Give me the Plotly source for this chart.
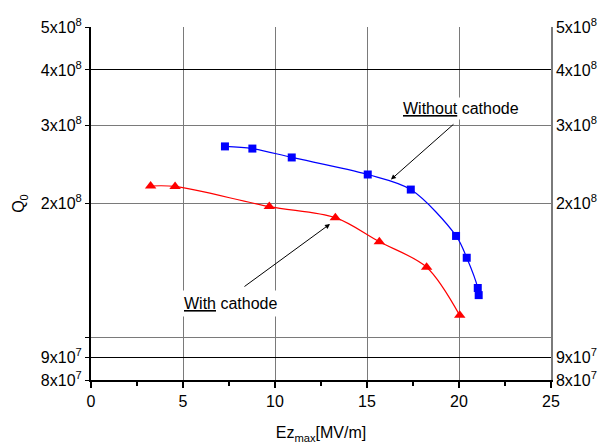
import math
import plotly.graph_objects as go

# Data
without_x = [7.28, 8.77, 10.91, 15.04, 17.38, 19.84, 20.42, 21.02, 21.07]
without_q = [2.69e8, 2.66e8, 2.54e8, 2.325e8, 2.15e8, 1.69e8, 1.509e8, 1.29e8, 1.243e8]

with_x = [3.24, 4.57, 9.69, 13.28, 15.67, 18.24, 20.04]
with_q = [2.19e8, 2.185e8, 1.968e8, 1.858e8, 1.64e8, 1.437e8, 1.119e8]

x_ticks = [0, 5, 10, 15, 20, 25]
y_tickvals = [8e7, 9e7, 1e8, 2e8, 3e8, 4e8, 5e8]
y_ticktext = ["8x10<sup>7</sup>", "9x10<sup>7</sup>", "", "2x10<sup>8</sup>",
              "3x10<sup>8</sup>", "4x10<sup>8</sup>", "5x10<sup>8</sup>"]
black_grid_vals = [9e7, 4e8]

y_min, y_max = 8e7, 5e8
FONT = "Liberation Sans, Arial, sans-serif"

fig = go.Figure()
fig.add_trace(go.Scatter(x=without_x, y=without_q, mode="lines+markers",
                         line=dict(color="#0000ff", width=1.2, shape="spline", smoothing=0.9),
                         marker=dict(symbol="square", size=8, color="#0000ff"),
                         showlegend=False))
fig.add_trace(go.Scatter(x=with_x, y=with_q, mode="lines+markers",
                         line=dict(color="#ff0000", width=1.2, shape="spline", smoothing=0.9),
                         marker=dict(symbol="triangle-up", size=10, color="#ff0000"),
                         showlegend=False))
# invisible traces to anchor the overlaid axes
fig.add_trace(go.Scatter(x=without_x, y=without_q, yaxis="y2", mode="markers",
                         marker=dict(opacity=0), hoverinfo="skip", showlegend=False))
fig.add_trace(go.Scatter(x=without_x, y=without_q, yaxis="y3", mode="markers",
                         marker=dict(opacity=0), hoverinfo="skip", showlegend=False))

yrange = [math.log10(y_min), math.log10(y_max)]

fig.update_layout(
    width=610, height=444,
    margin=dict(l=91, r=59, t=27, b=64, autoexpand=False),
    paper_bgcolor="white", plot_bgcolor="white",
    font=dict(family=FONT, size=16, color="black"),
    xaxis=dict(range=[0, 25], tickvals=x_ticks, showgrid=True, gridcolor="#7a7a7a", gridwidth=1.2,
               zeroline=False, showline=True, linecolor="black", linewidth=2, automargin=False,
               ticks="outside", ticklen=6, tickcolor="black", tickwidth=1.5,
               minor=dict(dtick=2.5, tick0=0, ticks="outside", ticklen=4, tickcolor="black", showgrid=False),
               title=dict(text="Ez<sub>max</sub>[MV/m]", standoff=18, font=dict(size=16)),
               tickfont=dict(size=16)),
    yaxis=dict(type="log", range=yrange, tickvals=y_tickvals, ticktext=y_ticktext,
               showgrid=True, gridcolor="#7a7a7a", gridwidth=1.2, zeroline=False, automargin=False,
               showline=True, linecolor="black", linewidth=2, ticks="outside", ticklen=4,
               tickcolor="black", title=dict(text="Q<sub>0</sub>", standoff=12, font=dict(size=16)),
               tickfont=dict(size=16)),
    yaxis2=dict(type="log", range=yrange, tickvals=y_tickvals, ticktext=y_ticktext,
                overlaying="y", side="right", showgrid=False, zeroline=False, automargin=False,
                showline=True, linecolor="#7a7a7a", linewidth=1.5, ticks="",
                tickfont=dict(size=16)),
    yaxis3=dict(type="log", range=yrange, tickvals=black_grid_vals, overlaying="y",
                showticklabels=False, showgrid=True, gridcolor="black", gridwidth=1.2,
                zeroline=False, showline=False, ticks="", automargin=False),
)

# annotations (log axis -> positions in log10 units)
without_text_pos = (20.11, 8.5157)
without_arrow_head = (16.30, 8.355)
without_arrow_tail = (19.78, 8.4825)
with_text_pos = (7.58, 8.0752)
with_arrow_head = (12.99, 8.2549)
with_arrow_tail = (8.26, 8.1114)

fig.add_annotation(x=without_text_pos[0], y=without_text_pos[1], xref="x", yref="y",
                   text="<u>Without</u> cathode", showarrow=False, bgcolor="white",
                   font=dict(size=16), borderpad=2)
fig.add_annotation(x=with_text_pos[0], y=with_text_pos[1], xref="x", yref="y",
                   text="<u>With</u> cathode", showarrow=False, bgcolor="white",
                   font=dict(size=16), borderpad=4)
fig.add_annotation(x=without_arrow_head[0], y=without_arrow_head[1], xref="x", yref="y",
                   ax=without_arrow_tail[0], ay=without_arrow_tail[1], axref="x", ayref="y",
                   text="", showarrow=True, arrowhead=2, arrowsize=1, arrowwidth=1, arrowcolor="black")
fig.add_annotation(x=with_arrow_head[0], y=with_arrow_head[1], xref="x", yref="y",
                   ax=with_arrow_tail[0], ay=with_arrow_tail[1], axref="x", ayref="y",
                   text="", showarrow=True, arrowhead=2, arrowsize=1, arrowwidth=1, arrowcolor="black")

fig.write_html("out.html", config={"displayModeBar": False},
               post_script="document.body.style.margin='0';document.body.style.overflow='hidden';")
